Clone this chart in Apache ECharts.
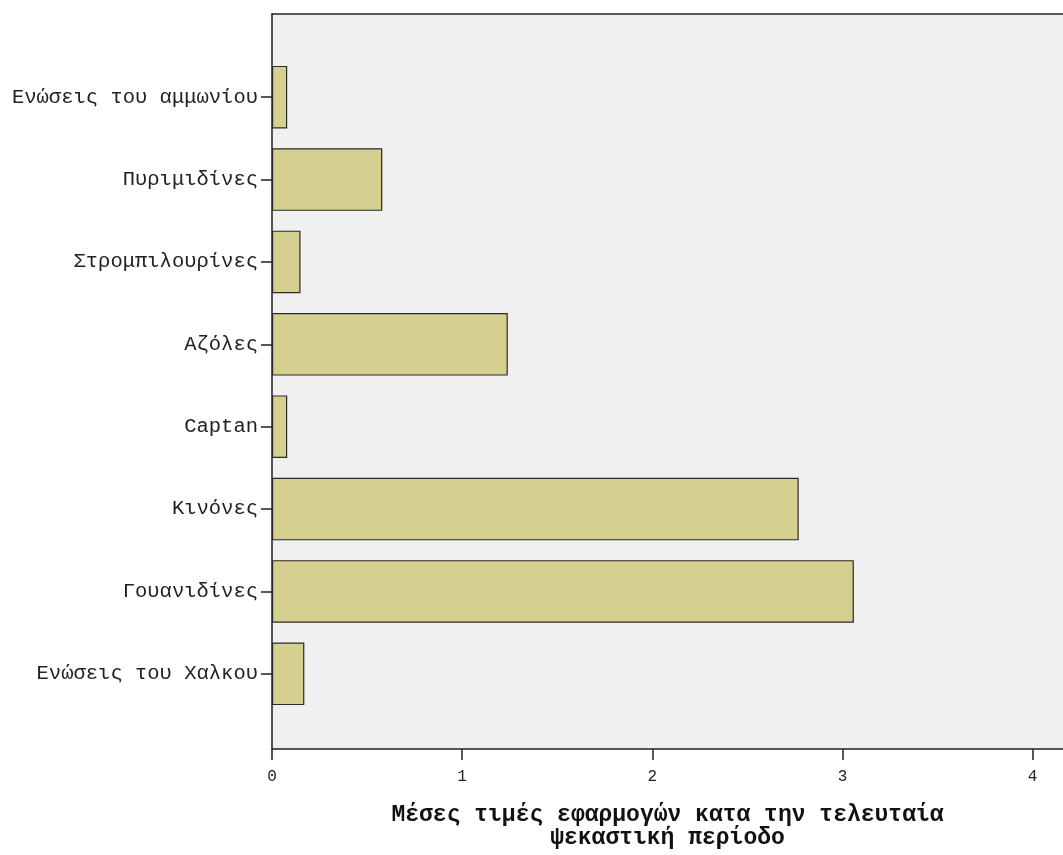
<!DOCTYPE html>
<html>
<head>
<meta charset="utf-8">
<script src="https://cdn.jsdelivr.net/npm/echarts@6/dist/echarts.min.js"></script>
<style>html,body{margin:0;padding:0;background:#fff;}#c{width:1063px;height:855px;}</style>
</head>
<body>
<div id="c"></div>
<script>
// Categories listed top to bottom
const categories = [
  'Ενώσεις του αμμωνίου',
  'Πυριμιδίνες',
  'Στρομπιλουρίνες',
  'Αζόλες',
  'Captan',
  'Κινόνες',
  'Γουανιδίνες',
  'Ενώσεις του Χαλκου'
];
const meanValues = [0.08, 0.58, 0.15, 1.24, 0.08, 2.77, 3.06, 0.17];
const xTicks = [0, 1, 2, 3, 4];
const xMax = 4.16;
const axisTitle = 'Μέσες τιμές εφαρμογών κατα την τελευταία\nψεκαστική περίοδο';

const chart = echarts.init(document.getElementById('c'), null, {renderer: 'canvas'});
const mono = '"Liberation Mono", "DejaVu Sans Mono", monospace';
const lineDark = {color: '#222', width: 1.5};
chart.setOption({
  animation: false,
  backgroundColor: '#ffffff',
  grid: [
    {left: 272, right: 0, top: 56, bottom: 140, show: false},
    {left: 272, right: 0, top: 14, bottom: 100, show: true,
     backgroundColor: '#f0f0f0', borderWidth: 0, borderColor: 'transparent', z: 0}
  ],
  xAxis: [
    {type: 'value', gridIndex: 0, min: 0, max: xMax, interval: 1, show: false},
    {type: 'value', gridIndex: 1, min: xTicks[0], max: xMax, interval: 1,
     splitLine: {show: false},
     axisLine: {show: true, lineStyle: lineDark},
     axisTick: {show: true, length: 11, lineStyle: lineDark},
     axisLabel: {showMaxLabel: false, color: '#222', fontFamily: mono, fontSize: 16, margin: 20,
       formatter: v => (xTicks.indexOf(v) >= 0 ? String(v) : '')},
     name: axisTitle, nameLocation: 'middle', nameGap: 55,
     nameTextStyle: {fontFamily: mono, fontWeight: 'bold', fontSize: 23, lineHeight: 23, color: '#111'}
    },
    {type: 'value', gridIndex: 1, position: 'top', min: 0, max: xMax,
     axisLine: {show: true, onZero: false, lineStyle: lineDark},
     axisTick: {show: false}, axisLabel: {show: false}, splitLine: {show: false}}
  ],
  yAxis: [
    {type: 'category', gridIndex: 0, data: categories, inverse: true,
     axisLine: {show: false},
     axisTick: {show: true, alignWithLabel: true, length: 11, lineStyle: lineDark},
     axisLabel: {color: '#222', fontFamily: mono, fontSize: 20.5, margin: 14},
     splitLine: {show: false}
    },
    {type: 'value', gridIndex: 1, min: 0, max: 1, position: 'left',
     axisLine: {show: true, onZero: false, lineStyle: lineDark},
     axisTick: {show: false}, axisLabel: {show: false}, splitLine: {show: false}}
  ],
  series: [{
    type: 'bar',
    xAxisIndex: 0, yAxisIndex: 0,
    data: meanValues,
    barWidth: '76%',
    itemStyle: {color: '#d5d08f', borderColor: '#2a2a2a', borderWidth: 1.2},
    z: 3
  }]
});
</script>
</body>
</html>
